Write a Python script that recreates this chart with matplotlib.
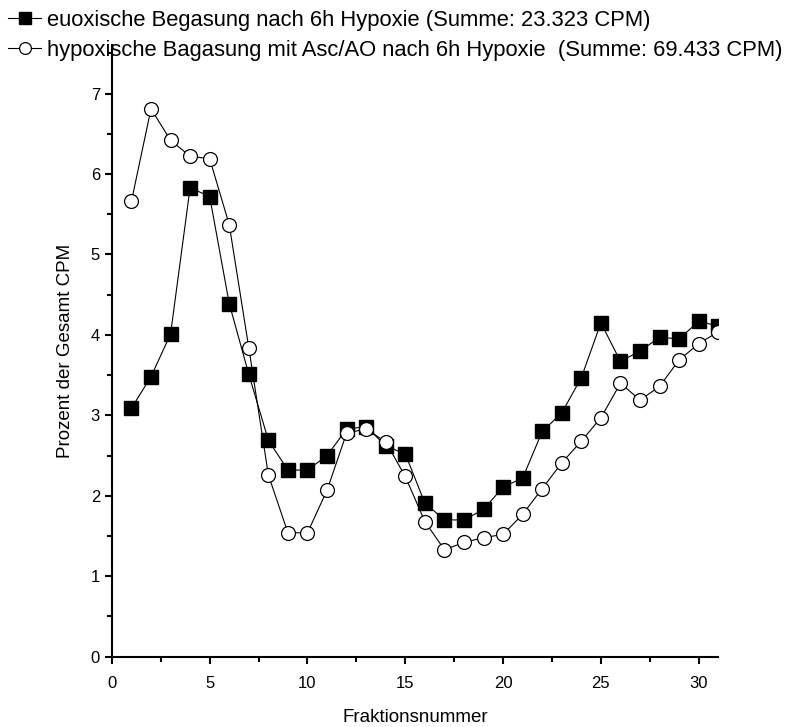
#
# Fraktionsverteilung: euoxisch vs. hypoxisch (Prozent der Gesamt-CPM)
#
import matplotlib
matplotlib.use('Agg')
import matplotlib.pyplot as plt
from matplotlib.ticker import MultipleLocator

matplotlib.rc('font', **{'family': ['Liberation Sans', 'DejaVu Sans']})

#
# Daten
#
fraktion = list(range(1, 32))
euoxisch = [3.09, 3.48, 4.01, 5.83, 5.72, 4.39, 3.51, 2.69, 2.32, 2.32,
            2.50, 2.83, 2.86, 2.62, 2.52, 1.91, 1.70, 1.70, 1.83, 2.11,
            2.22, 2.80, 3.03, 3.47, 4.15, 3.67, 3.80, 3.97, 3.95, 4.17, 4.11]
hypoxisch = [5.66, 6.81, 6.42, 6.22, 6.19, 5.37, 3.84, 2.26, 1.54, 1.54,
             2.07, 2.78, 2.83, 2.67, 2.24, 1.68, 1.33, 1.42, 1.48, 1.52,
             1.77, 2.09, 2.41, 2.68, 2.97, 3.40, 3.19, 3.36, 3.69, 3.89, 4.04]

label_eu = 'euoxische Begasung nach 6h Hypoxie (Summe: 23.323 CPM)'
label_hy = 'hypoxische Bagasung mit Asc/AO nach 6h Hypoxie  (Summe: 69.433 CPM)'

#
# Plot
#
fig = plt.figure(figsize=(7.99, 7.27), dpi=100)
ax = fig.add_axes([0.140, 0.0967, 0.759, 0.841])

ax.plot(fraktion, euoxisch, color='black', lw=0.8, marker='s', ms=9.5,
        mfc='black', mec='black', label=label_eu)
ax.plot(fraktion, hypoxisch, color='black', lw=0.8, marker='o', ms=10,
        mfc='white', mec='black', mew=0.9, label=label_hy)

ax.set_xlim(0, 31)
ax.set_ylim(0, 7.6)
ax.xaxis.set_major_locator(MultipleLocator(5))
ax.xaxis.set_minor_locator(MultipleLocator(2.5))
ax.yaxis.set_major_locator(MultipleLocator(1))
ax.yaxis.set_minor_locator(MultipleLocator(0.5))
ax.spines['top'].set_visible(False)
ax.spines['right'].set_visible(False)
for s in ('left', 'bottom'):
    ax.spines[s].set_linewidth(1.5)
ax.tick_params(which='major', direction='out', length=5, width=1.5, labelsize=12)
ax.tick_params(axis='x', which='major', pad=9)
ax.tick_params(which='minor', direction='out', length=3.5, width=1.5)

ax.set_xlabel('Fraktionsnummer', fontsize=13.5, labelpad=13)
ax.set_ylabel('Prozent der Gesamt CPM', fontsize=13.5, labelpad=12)

fig.legend(loc='upper left', bbox_to_anchor=(-0.002, 1.0), frameon=False,
           fontsize=15.8, handlelength=1.5, handletextpad=0.25,
           labelspacing=0.42, borderaxespad=0.15, borderpad=0.3,
           markerscale=0.85)

plt.savefig('out.png', dpi=100)
